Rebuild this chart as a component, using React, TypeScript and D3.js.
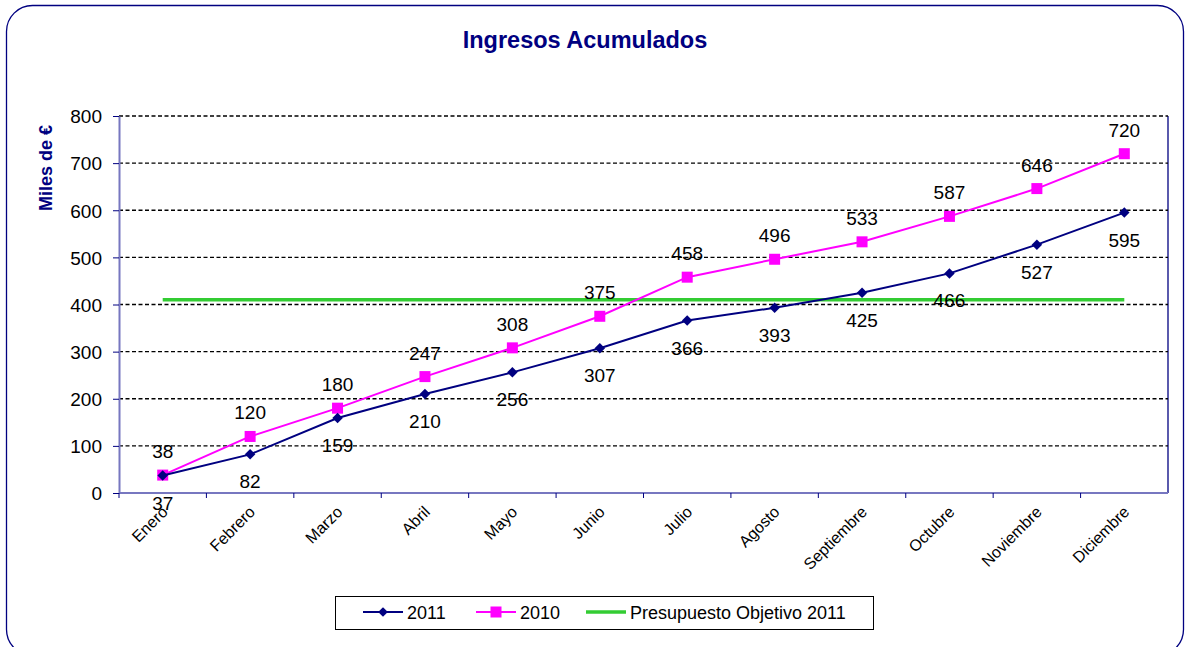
import React, { useEffect, useRef } from 'react';
import * as d3 from 'd3';

const months = ['Enero', 'Febrero', 'Marzo', 'Abril', 'Mayo', 'Junio', 'Julio', 'Agosto', 'Septiembre', 'Octubre', 'Noviembre', 'Diciembre'];
const values2011 = [37, 82, 159, 210, 256, 307, 366, 393, 425, 466, 527, 595];
const values2010 = [38, 120, 180, 247, 308, 375, 458, 496, 533, 587, 646, 720];
const budget2011 = 410;
const yTicks = [0, 100, 200, 300, 400, 500, 600, 700, 800];

const App = () => {
    const ref = useRef<SVGSVGElement>(null);

    useEffect(() => {
        const svg = d3.select(ref.current);
        svg.selectAll('*').remove();

        const left = 119, right = 1168, top = 116, bottom = 493;
        const font = 'Liberation Sans, Arial, sans-serif';
        const navy = '#000080';
        const axisColor = '#7777c0';

        // outer rounded frame
        svg.append('rect')
            .attr('x', 6.5).attr('y', 5.5)
            .attr('width', 1177).attr('height', 650)
            .attr('rx', 26)
            .attr('fill', 'white')
            .attr('stroke', navy)
            .attr('stroke-width', 1.3);

        svg.append('text')
            .attr('x', 585).attr('y', 48)
            .attr('text-anchor', 'middle')
            .style('font-family', font).style('font-weight', 'bold')
            .style('font-size', '23.5px').style('fill', navy)
            .text('Ingresos Acumulados');

        svg.append('text')
            .attr('transform', `translate(52, 168) rotate(-90)`)
            .attr('text-anchor', 'middle')
            .style('font-family', font).style('font-weight', 'bold')
            .style('font-size', '18px').style('fill', navy)
            .text('Miles de €');

        const x = d3.scaleBand().domain(months).range([left, right]);
        const y = d3.scaleLinear().domain([0, 800]).range([bottom, top]);
        const cx = (m: string) => (x(m) as number) + x.bandwidth() / 2;

        // plot frame (right side)
        svg.append('line')
            .attr('x1', right).attr('x2', right).attr('y1', top).attr('y2', bottom)
            .attr('stroke', navy).attr('stroke-width', 1.3);

        // gridlines
        svg.append('g').selectAll('line')
            .data(yTicks.filter(d => d > 0))
            .enter().append('line')
            .attr('x1', left).attr('x2', right)
            .attr('y1', d => y(d)).attr('y2', d => y(d))
            .attr('stroke', 'black').attr('stroke-width', 1.3)
            .attr('stroke-dasharray', '4,2.5');

        // y axis
        const yAxis = svg.append('g')
            .attr('transform', `translate(${left},0)`)
            .call(d3.axisLeft(y).tickValues(yTicks).tickSize(6).tickSizeOuter(0));
        yAxis.select('.domain').attr('stroke', axisColor).attr('stroke-width', 2);
        yAxis.selectAll('.tick line').attr('stroke', navy);
        yAxis.selectAll('text')
            .attr('x', -17).attr('dy', '0.36em')
            .style('font-family', font).style('font-size', '19px').style('fill', 'black');

        // x axis with ticks on band boundaries
        svg.append('line')
            .attr('x1', left).attr('x2', right).attr('y1', bottom).attr('y2', bottom)
            .attr('stroke', axisColor).attr('stroke-width', 2);
        svg.append('g').selectAll('line')
            .data(months)
            .enter().append('line')
            .attr('x1', d => x(d) as number).attr('x2', d => x(d) as number)
            .attr('y1', bottom).attr('y2', bottom + 5)
            .attr('stroke', navy);
        svg.append('g').selectAll('text')
            .data(months)
            .enter().append('text')
            .attr('transform', d => `translate(${cx(d) + 6}, ${bottom + 20}) rotate(-45)`)
            .attr('text-anchor', 'end')
            .style('font-family', font).style('font-size', '16px').style('fill', 'black')
            .text(d => d);

        // budget line
        svg.append('line')
            .attr('x1', cx(months[0])).attr('x2', cx(months[months.length - 1]))
            .attr('y1', y(budget2011)).attr('y2', y(budget2011))
            .attr('stroke', '#33cc33').attr('stroke-width', 3.5);

        const line = d3.line<number>()
            .x((d, i) => cx(months[i]))
            .y(d => y(d));

        // 2010 series
        svg.append('path').datum(values2010)
            .attr('d', line).attr('fill', 'none')
            .attr('stroke', '#ff00ff').attr('stroke-width', 2);
        svg.append('g').selectAll('rect')
            .data(values2010)
            .enter().append('rect')
            .attr('x', (d, i) => cx(months[i]) - 5.5).attr('y', d => y(d) - 5.5)
            .attr('width', 11).attr('height', 11)
            .attr('fill', '#ff00ff');

        // 2011 series
        svg.append('path').datum(values2011)
            .attr('d', line).attr('fill', 'none')
            .attr('stroke', navy).attr('stroke-width', 2);
        svg.append('g').selectAll('path')
            .data(values2011)
            .enter().append('path')
            .attr('d', d3.symbol(d3.symbolDiamond2, 70) as any)
            .attr('transform', (d, i) => `translate(${cx(months[i])}, ${y(d)})`)
            .attr('fill', navy);

        // data labels
        svg.append('g').selectAll('text')
            .data(values2010)
            .enter().append('text')
            .attr('x', (d, i) => cx(months[i])).attr('y', d => y(d) - 17)
            .attr('text-anchor', 'middle')
            .style('font-family', font).style('font-size', '19px').style('fill', 'black')
            .text(d => d);
        svg.append('g').selectAll('text')
            .data(values2011)
            .enter().append('text')
            .attr('x', (d, i) => cx(months[i])).attr('y', d => y(d) + 34)
            .attr('text-anchor', 'middle')
            .style('font-family', font).style('font-size', '19px').style('fill', 'black')
            .text(d => d);

        // legend
        const legend = svg.append('g');
        legend.append('rect')
            .attr('x', 335.5).attr('y', 596.5).attr('width', 538).attr('height', 33)
            .attr('fill', 'white').attr('stroke', 'black').attr('stroke-width', 1);
        const items = [
            { label: '2011', color: navy, x0: 363, marker: 'diamond' },
            { label: '2010', color: '#ff00ff', x0: 476, marker: 'square' },
            { label: 'Presupuesto Objetivo 2011', color: '#33cc33', x0: 586, marker: 'none' },
        ];
        const ly = 612;
        items.forEach(it => {
            legend.append('line')
                .attr('x1', it.x0).attr('x2', it.x0 + 40).attr('y1', ly).attr('y2', ly)
                .attr('stroke', it.color).attr('stroke-width', it.marker === 'none' ? 3.5 : 2);
            if (it.marker === 'diamond') {
                legend.append('path')
                    .attr('d', d3.symbol(d3.symbolDiamond2, 60) as any)
                    .attr('transform', `translate(${it.x0 + 20}, ${ly})`)
                    .attr('fill', it.color);
            } else if (it.marker === 'square') {
                legend.append('rect')
                    .attr('x', it.x0 + 14.5).attr('y', ly - 5.5).attr('width', 11).attr('height', 11)
                    .attr('fill', it.color);
            }
            legend.append('text')
                .attr('x', it.x0 + 44).attr('y', ly + 6.5)
                .style('font-family', font).style('font-size', '18px').style('fill', 'black')
                .text(it.label);
        });
    }, []);

    return (
        <svg ref={ref} width={1185} height={647}
            style={{ position: 'absolute', left: 0, top: 0, background: 'white' }} />
    );
};

export default App;
